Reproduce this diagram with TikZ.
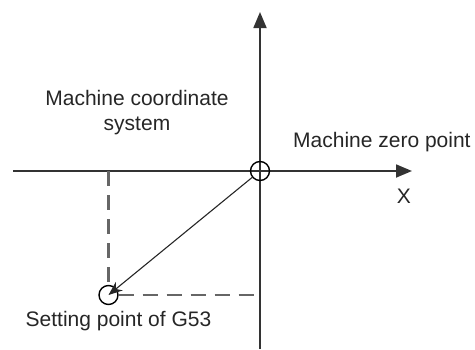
\documentclass[tikz,border=0pt]{standalone}
\usepackage{fontspec}
\setmainfont{Liberation Sans}
\usepackage{tikz}
\usetikzlibrary{arrows.meta}

\tikzset{
    axis/.style={line width=1.8pt, black!80, -{Triangle[length=16pt, width=13pt]}},
    refline/.style={line width=2.2pt, black!60, dash pattern=on 15pt off 9pt},
    marker/.style={draw, circle, line width=1.4pt, minimum size=19pt, inner sep=0pt},
    label/.style={font=\fontsize{21}{25}\selectfont, text=black!85, inner sep=0pt}
}

\begin{document}
\begin{tikzpicture}[x=1pt, y=-1pt]
    % --- FRAME ---
    \useasboundingbox (0,0) rectangle (475,349);

    % Axis Lines
    \coordinate (xstart) at (13,171);
    \coordinate (xend) at (412,171);
    \coordinate (ystart) at (260,349);
    \coordinate (yend) at (260,12);
    \draw[axis] (xstart) -- (xend);
    \draw[axis] (ystart) -- (yend);

    % Points
    \node[marker] (zero) at (260,171) {};
    \node[marker] (g53) at (108.5,295) {};

    % Projection Lines
    \coordinate (xfoot) at (108.5,171);
    \coordinate (yfoot) at (260,295);
    \draw[refline] (xfoot) -- (g53.north);
    \draw[refline] (g53.east) -- (yfoot);

    % Offset Arrow
    \draw[line width=1.1pt, black!85, -{Stealth[length=14pt, width=11pt]}] (zero) -- (g53.center);

    % Typography Annotations
    \node[label, align=center] (mcs) at (137,112.2) {Machine coordinate\\system};
    \node[label, anchor=base west] (mzp) at (293,147.5) {Machine zero point};
    \node[label] (xlab) at (404,196) {X};
    \node[label, anchor=base] (setp) at (118.5,326.5) {Setting point of G53};
\end{tikzpicture}
\end{document}
